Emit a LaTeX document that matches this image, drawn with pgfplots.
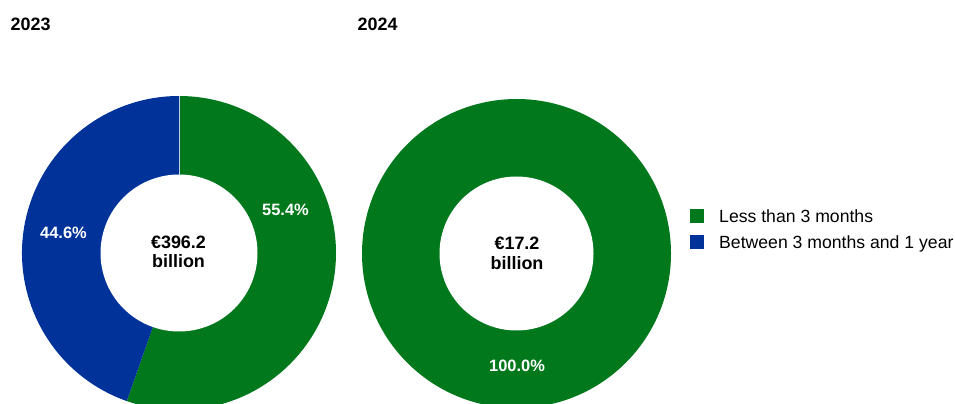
\documentclass[border=0pt]{standalone}
\usepackage{pgfplots}
\pgfplotsset{compat=1.18}
\usepackage{pgfplotstable}
\usepackage{fontspec}
\setmainfont{Liberation Sans}

\definecolor{ecbgreen}{RGB}{0,120,27}
\definecolor{ecbblue}{RGB}{0,50,153}

% maturity split (%) and outstanding amount (EUR billion)
\pgfplotstableread{
year less between total
2023 55.4 44.6 396.2
2024 100.0 0.0 17.2
}\maturity

\pgfplotstablegetelem{0}{less}\of\maturity \edef\lessA{\pgfplotsretval}
\pgfplotstablegetelem{0}{between}\of\maturity \edef\betwA{\pgfplotsretval}
\pgfplotstablegetelem{0}{total}\of\maturity \edef\totA{\pgfplotsretval}
\pgfplotstablegetelem{1}{less}\of\maturity \edef\lessB{\pgfplotsretval}
\pgfplotstablegetelem{1}{total}\of\maturity \edef\totB{\pgfplotsretval}
\pgfmathsetmacro\endA{90-3.6*\lessA}
\pgfmathsetmacro\endB{90-3.6*\lessB}

\pgfkeys{/pgf/number format/.cd, fixed, fixed zerofill, precision=1, assume math mode=true}
\newcommand\pct[1]{\pgfmathprintnumber{#1}\%}

\begin{document}
\begin{tikzpicture}
\begin{axis}[
  width=955bp, height=404bp, scale only axis,
  xmin=0, xmax=955, ymin=0, ymax=404,
  hide axis, clip=true,
]
% 2023
\fill[ecbgreen] (axis cs:179,151) -- ++(90:157bp) arc[start angle=90, end angle=\endA, radius=157bp] -- cycle;
\fill[ecbblue] (axis cs:179,151) -- ++(\endA:157bp) arc[start angle=\endA, end angle=-270, radius=157bp] -- cycle;
\draw[white!75!ecbblue, line width=0.5bp] (axis cs:179,151) -- ++(90:157bp);
\fill[white] (axis cs:179,151) circle[radius=78.5bp];

% 2024
\fill[ecbgreen] (axis cs:516.5,150.5) -- ++(90:154.5bp) arc[start angle=90, end angle=\endB, radius=154.5bp] -- cycle;
\fill[white] (axis cs:516.5,150.5) circle[radius=77bp];

% legend
\fill[ecbgreen] (axis cs:690,181) rectangle (axis cs:704,195);
\fill[ecbblue] (axis cs:690,155) rectangle (axis cs:704,169);
\node[anchor=base west, inner sep=0pt, font=\fontsize{17.7}{20}\selectfont] at (axis cs:719,181.3) {Less than 3 months};
\node[anchor=base west, inner sep=0pt, font=\fontsize{17.7}{20}\selectfont] at (axis cs:719,155.3) {Between 3 months and 1 year};

\node[anchor=base west, inner sep=0pt, font=\fontsize{18}{20}\selectfont\bfseries] at (axis cs:10.5,373.5) {2023};
\node[anchor=base west, inner sep=0pt, font=\fontsize{18}{20}\selectfont\bfseries] at (axis cs:357.5,373.5) {2024};

\node[anchor=base, inner sep=0pt, font=\fontsize{18}{20}\selectfont\bfseries] at (axis cs:178.5,155.7) {€\pgfmathprintnumber{\totA}};
\node[anchor=base, inner sep=0pt, font=\fontsize{18}{20}\selectfont\bfseries] at (axis cs:178.5,136.3) {billion};
\node[anchor=base, inner sep=0pt, font=\fontsize{18}{20}\selectfont\bfseries] at (axis cs:517,154.7) {€\pgfmathprintnumber{\totB}};
\node[anchor=base, inner sep=0pt, font=\fontsize{18}{20}\selectfont\bfseries] at (axis cs:517,134.7) {billion};

\node[anchor=base, inner sep=0pt, text=white, font=\fontsize{16.5}{20}\selectfont\bfseries] at (axis cs:285.5,188) {\pct{\lessA}};
\node[anchor=base, inner sep=0pt, text=white, font=\fontsize{16.5}{20}\selectfont\bfseries] at (axis cs:63.5,165) {\pct{\betwA}};
\node[anchor=base, inner sep=0pt, text=white, font=\fontsize{16.5}{20}\selectfont\bfseries] at (axis cs:517,32) {\pct{\lessB}};

\coordinate (SW) at (rel axis cs:0,0);
\coordinate (NE) at (rel axis cs:1,1);
\end{axis}
\pgfresetboundingbox
\useasboundingbox (SW) rectangle (NE);
\end{tikzpicture}
\end{document}
